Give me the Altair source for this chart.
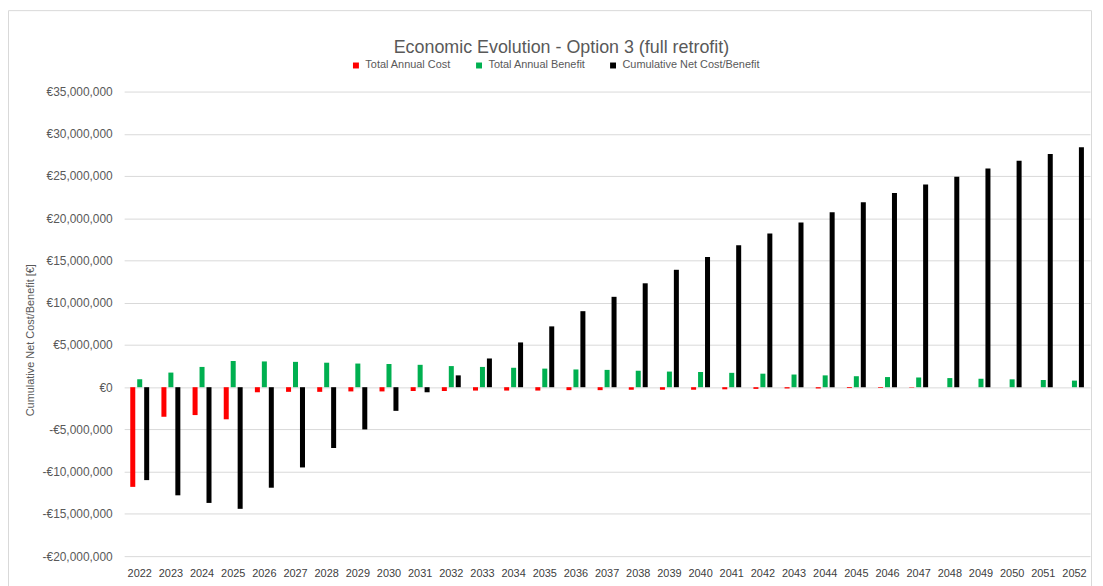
import altair as alt
import pandas as pd

years = [str(y) for y in range(2022, 2053)]

# values in millions of euro
total_annual_cost = [-11.8, -3.5, -3.3, -3.8, -0.6, -0.55, -0.55, -0.5, -0.5, -0.45,
                     -0.45, -0.4, -0.4, -0.4, -0.35, -0.35, -0.3, -0.3, -0.3, -0.25,
                     -0.2, -0.15, -0.15, -0.1, -0.08, -0.05, 0.0, 0.0, 0.0, 0.0, 0.0]
total_annual_benefit = [0.94, 1.73, 2.4, 3.1, 3.05, 3.0, 2.9, 2.8, 2.75, 2.65,
                        2.5, 2.4, 2.3, 2.2, 2.1, 2.05, 1.95, 1.85, 1.8, 1.7,
                        1.6, 1.5, 1.4, 1.3, 1.2, 1.15, 1.08, 1.0, 0.93, 0.85, 0.78]
cumulative_net = [-11.0, -12.8, -13.7, -14.4, -11.9, -9.5, -7.2, -5.0, -2.8, -0.6,
                  1.4, 3.4, 5.3, 7.2, 9.0, 10.7, 12.3, 13.9, 15.4, 16.8,
                  18.2, 19.5, 20.7, 21.9, 23.0, 24.0, 24.9, 25.9, 26.8, 27.6, 28.4]

series_names = ["Total Annual Cost", "Total Annual Benefit", "Cumulative Net Cost/Benefit"]
series_colors = ["#ff0000", "#00b050", "#000000"]
y_ticks = [v * 1_000_000 for v in range(-20, 40, 5)]

rows = []
for i, yr in enumerate(years):
    for name, vals in zip(series_names, [total_annual_cost, total_annual_benefit, cumulative_net]):
        rows.append({"Year": yr, "Series": name, "Value": vals[i] * 1_000_000})
df = pd.DataFrame(rows)

FONT = "Liberation Sans, Arial, sans-serif"

bars = alt.Chart(df).mark_bar().encode(
    x=alt.X("Year:N", sort=years, title=None,
            scale=alt.Scale(paddingInner=0.33, paddingOuter=0.165),
            axis=alt.Axis(labelAngle=0, ticks=False, domain=False, labelPadding=12,
                          labelFontSize=11, labelColor="#404040", labelFont=FONT)),
    xOffset=alt.XOffset("Series:N", sort=series_names,
                        scale=alt.Scale(paddingInner=0.28, paddingOuter=0.14)),
    y=alt.Y("Value:Q", title="Cumulative Net Cost/Benefit [€]",
            scale=alt.Scale(domain=[-20_000_000, 35_000_000], nice=False, zero=True),
            axis=alt.Axis(values=y_ticks, ticks=False, domain=False, labelPadding=12,
                          labelFontSize=12, labelColor="#595959", labelFont=FONT,
                          gridColor="#d9d9d9", gridWidth=1,
                          labelExpr="(datum.value < 0 ? '-' : '') + '€' + format(abs(datum.value), ',')",
                          titleFontSize=11, titleColor="#595959", titleFont=FONT,
                          titleFontWeight="normal", titleX=-89, titleY=250)),
    color=alt.Color("Series:N", sort=series_names,
                    scale=alt.Scale(domain=series_names, range=series_colors),
                    legend=alt.Legend(title=None, orient="none", direction="horizontal",
                                      legendX=228, legendY=-32, symbolType="square",
                                      symbolSize=36, symbolStrokeWidth=0, labelOffset=4,
                                      columnPadding=22, labelFontSize=11,
                                      labelColor="#595959", labelFont=FONT, padding=0)),
)

frame = alt.Chart(alt.Data(values=[{}])).mark_rect(
    fill=None, stroke="#d9d9d9", strokeWidth=1
).encode(
    x=alt.value(-116.5), x2=alt.value(974.5), y=alt.value(-81.5), y2=alt.value(520)
)

chart = alt.layer(frame, bars).properties(
    width=973, height=468,
    autosize=alt.AutoSizeParams(type="none"),
    padding={"left": 117, "top": 82, "right": 5, "bottom": 40},
    title=alt.TitleParams("Economic Evolution - Option 3 (full retrofit)",
                          fontSize=18, font=FONT, fontWeight="normal",
                          color="#595959", anchor="middle", dx=-46, offset=0, dy=47),
).configure_view(stroke=None)

chart.save("out.html", embed_options={"renderer": "svg", "actions": False})
